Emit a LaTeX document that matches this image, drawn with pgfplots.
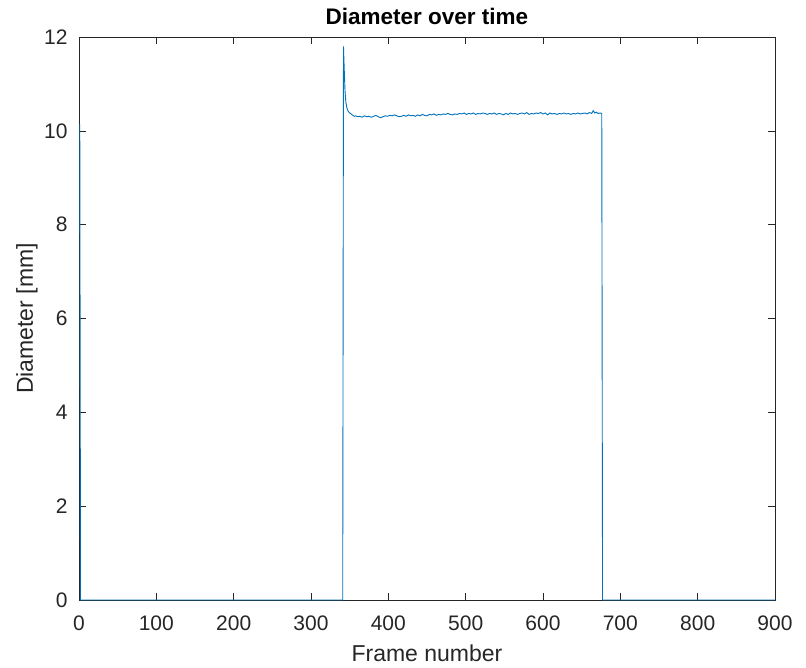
\documentclass[border=0pt]{standalone}
\usepackage{pgfplots}
\pgfplotsset{compat=1.18}
\usepackage{fontspec}
\setmainfont{Liberation Sans}
\definecolor{mblue}{rgb}{0,0.447,0.741}
\definecolor{mgray}{rgb}{0.15,0.15,0.15}
\begin{document}
\begin{tikzpicture}
\path[use as bounding box] (-79pt,-67pt) rectangle (727pt,600pt);
\begin{axis}[
  scale only axis,
  width=696pt, height=563pt,
  at={(0pt,0pt)}, anchor=south west,
  xmin=0, xmax=900, ymin=0, ymax=12,
  xtick={0,100,...,900}, ytick={0,2,...,12},
  tick align=inside,
  major tick length=7pt,
  axis line style={mgray, line width=0.6pt},
  every tick/.style={mgray, line width=0.6pt},
  /pgf/number format/assume math mode=true,
  tick label style={font=\fontsize{21}{24}\selectfont, text=mgray},
  xticklabel style={anchor=center, yshift=-23pt},
  yticklabel style={anchor=east, xshift=-8pt},
  xlabel={Frame number},
  ylabel={Diameter [mm]},
  title={\textbf{Diameter over time}},
  label style={font=\fontsize{23}{26}\selectfont, text=mgray},
  xlabel style={at={(rel axis cs:0.5,0)}, anchor=center, yshift=-53pt},
  ylabel style={at={(rel axis cs:0,0.5)}, anchor=center, yshift=52pt},
  title style={at={(rel axis cs:0.5,1)}, anchor=center, yshift=15pt, font=\fontsize{22.5}{26}\selectfont, text=black},
  scaled ticks=false,
]
\addplot[mblue, line width=0.9pt] coordinates {
(1,10.15) (2,0) (341,0) (342,11.80) (343,11.30) (344,10.85) (345,10.62) (346,10.52)
(347,10.46) (348,10.42) (350,10.38) (352,10.36) (354,10.33) (356,10.31) (358,10.32)
(360,10.30) (363,10.31) (366,10.29) (369,10.32) (372,10.30) (375,10.31) (378,10.29)
(381,10.31) (384,10.33) (387,10.30) (390,10.28) (393,10.30) (396,10.32) (399,10.31)
(402,10.33) (405,10.32) (408,10.34) (411,10.32) (414,10.30) (417,10.31) (420,10.33)
(423,10.31) (426,10.34) (429,10.32) (432,10.33) (435,10.31) (438,10.34) (441,10.32)
(444,10.35) (447,10.33) (450,10.32) (453,10.35) (456,10.34) (459,10.36) (462,10.33)
(465,10.35) (468,10.34) (471,10.36) (474,10.35) (477,10.37) (480,10.35) (483,10.34)
(486,10.36) (489,10.35) (492,10.37) (495,10.36) (498,10.38) (501,10.35) (504,10.37)
(507,10.36) (510,10.38) (513,10.35) (516,10.37) (519,10.36) (522,10.38) (525,10.37)
(528,10.35) (531,10.37) (534,10.36) (537,10.38) (540,10.35) (543,10.37) (546,10.36)
(549,10.34) (552,10.37) (555,10.35) (558,10.38) (561,10.36) (564,10.37) (567,10.35)
(570,10.37) (573,10.38) (576,10.36) (579,10.39) (582,10.35) (585,10.37) (588,10.36)
(591,10.38) (594,10.37) (597,10.39) (600,10.36) (603,10.38) (606,10.34) (609,10.38)
(612,10.36) (615,10.37) (618,10.35) (621,10.37) (624,10.36) (627,10.38) (630,10.36)
(633,10.37) (636,10.35) (639,10.37) (642,10.36) (645,10.38) (648,10.36) (651,10.37)
(654,10.38) (657,10.36) (660,10.39) (663,10.37) (665,10.43) (667,10.38) (669,10.40)
(671,10.37) (674,10.38) (676,10.37) (677,0) (900,0)
};
\end{axis}
\end{tikzpicture}
\end{document}
